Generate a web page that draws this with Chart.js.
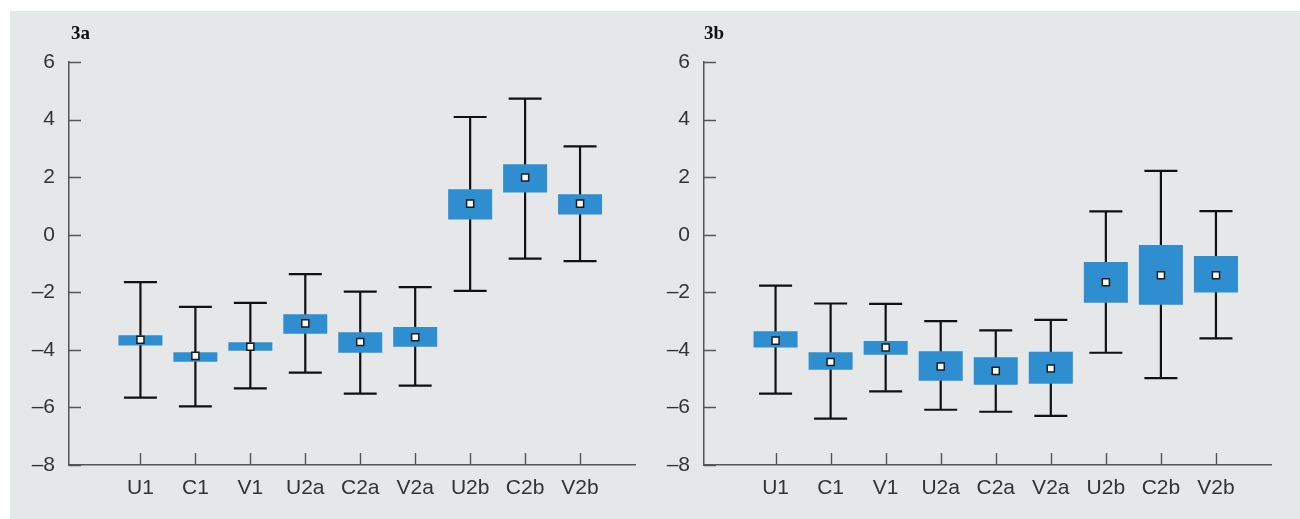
<!DOCTYPE html>
<html>
<head>
<meta charset="utf-8">
<script src="https://cdn.jsdelivr.net/npm/chart.js@4.4.1/dist/chart.umd.min.js"></script>
<style>
  html, body { margin: 0; padding: 0; background: #fff; }
  #bg { position: absolute; left: 10px; top: 11px; width: 1290px; height: 508px; background: #e6e7e9; }
  canvas { position: absolute; top: 11px; }
  #chartA { left: 10px; }
  #chartB { left: 645px; }
</style>
</head>
<body>
<div id="bg"></div>
<canvas id="chartA" width="635" height="508"></canvas>
<canvas id="chartB" width="655" height="508"></canvas>
<script>
// Categories (x axis)
const categories = ['U1', 'C1', 'V1', 'U2a', 'C2a', 'V2a', 'U2b', 'C2b', 'V2b'];
const yTicks = [-8, -6, -4, -2, 0, 2, 4, 6];

// Panel 3a: whisker low, box low, centre mark, box high, whisker high
const aLow  = [-5.66, -5.96, -5.34, -4.79, -5.52, -5.24, -1.95, -0.83, -0.92];
const aQ1   = [-3.85, -4.41, -4.03, -3.44, -4.10, -3.89,  0.53,  1.47,  0.70];
const aMid  = [-3.65, -4.21, -3.89, -3.08, -3.73, -3.56,  1.08,  1.99,  1.08];
const aQ3   = [-3.49, -4.08, -3.74, -2.76, -3.39, -3.21,  1.58,  2.45,  1.41];
const aHigh = [-1.65, -2.51, -2.37, -1.37, -1.98, -1.82,  4.09,  4.73,  3.07];

// Panel 3b
const bLow  = [-5.52, -6.39, -5.44, -6.08, -6.15, -6.29, -4.10, -4.98, -3.60];
const bQ1   = [-3.92, -4.69, -4.17, -5.07, -5.21, -5.18, -2.36, -2.43, -2.01];
const bMid  = [-3.68, -4.42, -3.92, -4.58, -4.73, -4.65, -1.65, -1.41, -1.41];
const bQ3   = [-3.35, -4.08, -3.69, -4.05, -4.26, -4.07, -0.95, -0.36, -0.74];
const bHigh = [-1.77, -2.39, -2.40, -3.00, -3.32, -2.96,  0.81,  2.22,  0.82];

const FONT = '"Liberation Sans", Arial, sans-serif';
const AXIS_COLOR = '#555';

function minus(v) {
    return v < 0 ? '\u2013' + Math.abs(v) : String(v);
}

// Build one panel
function makeChart(id, title, lo, q1, mid, q3, hi, padRight, titleShift) {
    const boxes = categories.map((c, i) => ({ x: i + 1, y: [q1[i], q3[i]] }));
    const marks = categories.map((c, i) => ({ x: i + 1, y: mid[i] }));

    // Whiskers under the boxes, inward ticks and panel title on top
    const boxPlot = {
        id: 'boxPlot',
        beforeDatasetsDraw(chart) {
            const { ctx, scales: { x, y } } = chart;
            const capHalf = x.getPixelForValue(1.3) - x.getPixelForValue(1);
            ctx.save();
            ctx.strokeStyle = '#111';
            ctx.lineWidth = 2.2;
            categories.forEach((c, i) => {
                const px = x.getPixelForValue(i + 1);
                const top = y.getPixelForValue(hi[i]);
                const bot = y.getPixelForValue(lo[i]);
                ctx.beginPath();
                ctx.moveTo(px, top); ctx.lineTo(px, bot);
                ctx.moveTo(px - capHalf, top); ctx.lineTo(px + capHalf, top);
                ctx.moveTo(px - capHalf, bot); ctx.lineTo(px + capHalf, bot);
                ctx.stroke();
            });
            ctx.restore();
        },
        afterDraw(chart) {
            const { ctx, chartArea, scales: { x, y } } = chart;
            ctx.save();
            ctx.strokeStyle = AXIS_COLOR;
            ctx.lineWidth = 1.4;
            ctx.beginPath();
            y.ticks.forEach(t => {
                const py = Math.round(y.getPixelForValue(t.value)) + 0.5;
                ctx.moveTo(chartArea.left, py);
                ctx.lineTo(chartArea.left + 12, py);
            });
            x.ticks.forEach(t => {
                const px = Math.round(x.getPixelForValue(t.value)) + 0.5;
                ctx.moveTo(px, chartArea.bottom);
                ctx.lineTo(px, chartArea.bottom - 12);
            });
            ctx.stroke();
            ctx.fillStyle = '#111';
            ctx.font = 'bold 19px "Liberation Serif", "Times New Roman", serif';
            ctx.textBaseline = 'alphabetic';
            ctx.fillText(title, chartArea.left + titleShift, 28);
            ctx.restore();
        }
    };

    return new Chart(document.getElementById(id), {
        type: 'bar',
        data: {
            datasets: [
                {
                    type: 'scatter',
                    data: marks,
                    pointStyle: 'rect',
                    pointRadius: 5,
                    pointBorderWidth: 1.5,
                    pointBorderColor: '#1b1b1b',
                    pointBackgroundColor: '#ffffff',
                    order: 0
                },
                {
                    data: boxes,
                    backgroundColor: '#2f8ecf',
                    borderWidth: 0,
                    barPercentage: 0.8,
                    categoryPercentage: 1,
                    grouped: false,
                    order: 2
                }
            ]
        },
        options: {
            responsive: false,
            animation: false,
            layout: { padding: { top: 51, right: padRight, left: 0, bottom: 0 } },
            plugins: {
                legend: { display: false },
                tooltip: { enabled: false },
                title: { display: false }
            },
            scales: {
                x: {
                    type: 'linear',
                    offset: false,
                    min: -0.3,
                    max: 10,
                    afterBuildTicks: scale => {
                        scale.ticks = categories.map((c, i) => ({ value: i + 1 }));
                    },
                    afterFit: scale => { scale.height = 54; },
                    grid: { display: false, drawTicks: false },
                    border: { display: true, color: AXIS_COLOR, width: 1.5 },
                    ticks: {
                        autoSkip: false,
                        maxRotation: 0,
                        padding: 11,
                        color: '#333',
                        font: { family: FONT, size: 21 },
                        callback: v => categories[v - 1] || ''
                    }
                },
                y: {
                    min: -8,
                    max: 6,
                    afterBuildTicks: scale => {
                        scale.ticks = yTicks.map(v => ({ value: v }));
                    },
                    afterFit: scale => { scale.width = 59; },
                    grid: { display: false, drawTicks: false },
                    border: { display: true, color: AXIS_COLOR, width: 1.5 },
                    ticks: {
                        padding: 14,
                        color: '#333',
                        font: { family: FONT, size: 21 },
                        callback: v => minus(v)
                    }
                }
            }
        },
        plugins: [boxPlot]
    });
}

makeChart('chartA', '3a', aLow, aQ1, aMid, aQ3, aHigh, 10, 2);
makeChart('chartB', '3b', bLow, bQ1, bMid, bQ3, bHigh, 29, 0);
</script>
</body>
</html>
